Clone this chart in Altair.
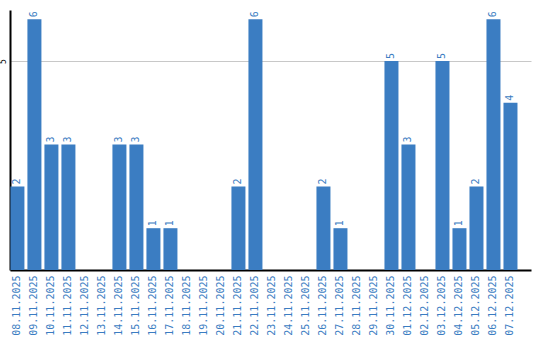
import altair as alt
import pandas as pd

dates = ["08.11.2025", "09.11.2025", "10.11.2025", "11.11.2025", "12.11.2025",
         "13.11.2025", "14.11.2025", "15.11.2025", "16.11.2025", "17.11.2025",
         "18.11.2025", "19.11.2025", "20.11.2025", "21.11.2025", "22.11.2025",
         "23.11.2025", "24.11.2025", "25.11.2025", "26.11.2025", "27.11.2025",
         "28.11.2025", "29.11.2025", "30.11.2025", "01.12.2025", "02.12.2025",
         "03.12.2025", "04.12.2025", "05.12.2025", "06.12.2025", "07.12.2025"]
values = [2, 6, 3, 3, 0, 0, 3, 3, 1, 1, 0, 0, 0, 2, 6, 0, 0, 0, 2, 1,
          0, 0, 5, 3, 0, 5, 1, 2, 6, 4]

df = pd.DataFrame({"date": dates, "value": values})
df["label"] = df["value"].apply(lambda v: str(v) if v > 0 else "")

blue = "#3b7dc2"
font = "DejaVu Sans Mono"

x = alt.X("date:N", sort=dates, title=None,
          scale=alt.Scale(paddingInner=0.1765, paddingOuter=0.41, align=0.03),
          axis=alt.Axis(labelAngle=-90, labelColor=blue, labelFont=font,
                        labelFontSize=10, ticks=False, domainColor="#000000",
                        domainWidth=2, labelPadding=5))

bars = alt.Chart(df).mark_bar(color=blue).encode(
    x=x,
    y=alt.Y("value:Q", title=None,
            scale=alt.Scale(domain=[0, 6.22], nice=False),
            axis=alt.Axis(values=[5], ticks=False, labelAngle=-90,
                          labelFont=font, labelFontSize=8, labelColor="#000000",
                          labelAlign="center", labelBaseline="bottom",
                          labelPadding=3, domainColor="#000000", domainWidth=2,
                          gridColor="#c8c8c8", gridWidth=1)),
)

text = alt.Chart(df).mark_text(angle=270, align="left", baseline="middle",
                               dx=2, color=blue, font=font, fontSize=10).encode(
    x=alt.X("date:N", sort=dates),
    y=alt.Y("value:Q"),
    text="label:N",
)

chart = (bars + text).properties(
    width=521, height=260,
    autosize=alt.AutoSizeParams(type="none"),
    padding={"left": 10, "top": 10, "right": 9, "bottom": 70},
).configure_view(stroke=None)

chart.save("out.html", embed_options={"renderer": "svg", "actions": False})
